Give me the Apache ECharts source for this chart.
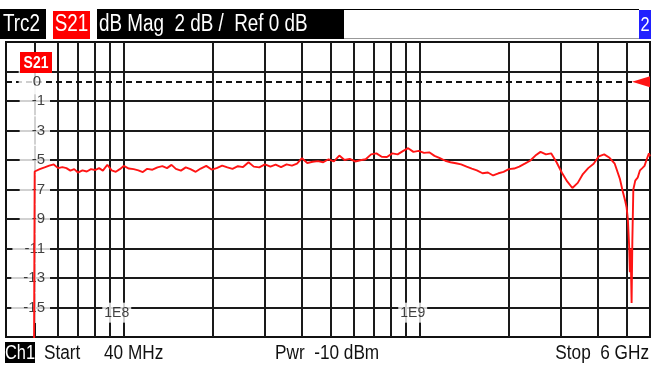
<!DOCTYPE html>
<html><head><meta charset="utf-8">
<script src="https://cdn.jsdelivr.net/npm/echarts@6/dist/echarts.min.js"></script>
<style>html,body{margin:0;padding:0;background:#fff}#c{width:651px;height:365px}</style>
</head><body><div id="c"></div>
<script>
// ---- data ----
const freqMHz = [
  49.5, 50, 52, 54, 56, 58, 60, 62, 64, 66,
  68, 70, 72.5, 75, 77.5, 80, 82.5, 85, 88, 91,
  94, 97, 100, 104, 108, 112, 116, 120, 125, 130,
  135, 140, 145, 150, 156, 162, 168, 175, 182, 190,
  198, 206, 215, 224, 233, 243, 253, 264, 275, 287,
  300, 313, 326, 340, 355, 370, 385, 400, 417, 435,
  453, 472, 492, 513, 535, 557, 580, 605, 630, 657,
  685, 714, 744, 775, 808, 842, 877, 914, 952, 992,
  1034, 1077, 1122, 1170, 1220, 1270, 1325, 1380, 1440, 1500,
  1560, 1630, 1700, 1770, 1845, 1920, 2000, 2085, 2170, 2265,
  2360, 2460, 2560, 2670, 2780, 2900, 3020, 3150, 3280, 3420,
  3560, 3710, 3870, 4030, 4200, 4380, 4560, 4750, 4850, 4950,
  5000, 5050, 5100, 5130, 5160, 5200, 5230, 5270, 5350, 5450,
  5550, 5650, 5750, 5850, 5950, 6000
];
const s21dB = [
  -30, -5.78, -5.62, -5.50, -5.38, -5.30, -5.55, -5.48, -5.55, -5.72,
  -5.62, -5.85, -5.70, -5.78, -5.62, -5.68, -5.55, -5.72, -5.32, -5.70,
  -5.80, -5.62, -5.40, -5.58, -5.62, -5.70, -5.82, -5.60, -5.66, -5.50,
  -5.42, -5.55, -5.33, -5.60, -5.72, -5.50, -5.62, -5.80, -5.58, -5.40,
  -5.65, -5.55, -5.38, -5.50, -5.60, -5.42, -5.48, -5.15, -5.45, -5.50,
  -5.30, -5.45, -5.32, -5.48, -5.30, -5.38, -5.25, -4.88, -5.20, -5.12,
  -5.08, -5.15, -4.95, -5.10, -4.70, -5.00, -4.92, -5.10, -5.02, -4.95,
  -4.62, -4.55, -4.78, -4.80, -4.55, -4.62, -4.40, -4.20, -4.45, -4.38,
  -4.52, -4.48, -4.72, -4.88, -5.05, -5.15, -5.22, -5.30, -5.45, -5.58,
  -5.70, -5.90, -5.85, -6.05, -5.90, -5.80, -5.62, -5.58, -5.45, -5.25,
  -5.05, -4.70, -4.45, -4.62, -4.55, -5.15, -5.85, -6.45, -6.90, -6.55,
  -5.95, -5.55, -5.25, -4.75, -4.62, -4.85, -5.25, -6.30, -7.10, -7.80,
  -8.20, -9.00, -10.8, -12.6, -11.0, -14.7, -10.5, -7.0, -6.40, -6.20,
  -5.70, -5.55, -5.40, -4.95, -4.55, -4.75
];
const startMHz = 40, stopMHz = 6000;
const yMin = -17, yMax = 3;
const vGridMHz = [50, 60, 70, 80, 90, 100, 200, 300, 400, 500, 600, 700, 800, 900, 1000, 2000, 3000, 4000, 5000];
const hGridDB = [1, -1, -3, -5, -7, -9, -11, -13, -15];
const yTickLabels = [-1, -3, -5, -7, -9, -11, -13, -15];
const refLevelDB = 0.3;
const refLabel = '0';
const decadeMHz = [100, 1000];
const decadeLabels = ['1E8', '1E9'];
const headerTexts = ['Trc2', 'S21', 'dB Mag  2 dB /  Ref 0 dB', '2'];
const footerTexts = ['Ch1', 'Start', '40 MHz', 'Pwr  -10 dBm', 'Stop  6 GHz'];

// ---- chart ----
const FONT = '"Liberation Sans",Arial,sans-serif';
const RED = '#ff1414';
const NARROW = 0.82;
const chart = echarts.init(document.getElementById('c'), null, {renderer: 'canvas'});
const M = 1e6;
const gridLineData = vGridMHz.map(f => ({xAxis: f * M}))
  .concat(hGridDB.map(v => ({yAxis: v})))
  .concat([{yAxis: refLevelDB, lineStyle: {type: [6, 4], color: '#111', width: 2}}]);

function txt(text, x, y, opts) {
  opts = opts || {};
  return {type: 'text', z: 12, x: x, y: y, scaleX: opts.scaleX || NARROW,
    style: {text: text, x: 0, y: 0, fill: opts.fill || '#111',
      font: (opts.bold ? 'bold ' : '') + (opts.size || 20) + 'px ' + FONT,
      align: opts.align || 'left', verticalAlign: 'middle'}};
}

const yLabelData = [{value: [startMHz * M, refLevelDB], name: refLabel,
    label: {offset: [38, 0], padding: [5, 3, 5, 14]}}]
  .concat(yTickLabels.map(v => ({value: [startMHz * M, v], name: String(v)})));

const option = {
  backgroundColor: '#fff',
  animation: false,
  grid: {left: 6, right: 1, top: 42, bottom: 28, show: true, borderColor: '#111', borderWidth: 2, backgroundColor: 'transparent'},
  xAxis: {type: 'log', logBase: 10, min: startMHz * M, max: stopMHz * M,
    axisLine: {show: false}, axisTick: {show: false}, axisLabel: {show: false}, splitLine: {show: false}},
  yAxis: {type: 'value', min: yMin, max: yMax,
    axisLine: {show: false}, axisTick: {show: false}, splitLine: {show: false}, axisLabel: {show: false}},
  series: [
    {type: 'line', z: 0, data: [], silent: true,
      markLine: {z: 0, silent: true, symbol: ['none', 'none'], label: {show: false}, animation: false,
        lineStyle: {color: '#1a1a1a', width: 2, type: 'solid'}, emphasis: {disabled: true},
        data: gridLineData}},
    {type: 'scatter', z: 1, silent: true, symbolSize: 1, itemStyle: {color: 'rgba(0,0,0,0)'},
      data: yLabelData,
      label: {show: true, position: 'inside', formatter: '{b}', offset: [44, 0], align: 'right', verticalAlign: 'middle',
        color: '#111', fontFamily: FONT, fontSize: 15, backgroundColor: '#fff', padding: [8, 5, 8, 12]}},
    {type: 'scatter', z: 1, silent: true, symbolSize: 1, itemStyle: {color: 'rgba(0,0,0,0)'},
      data: decadeMHz.map((f, i) => ({value: [f * M, -15.35], name: decadeLabels[i]})),
      label: {show: true, position: 'inside', formatter: '{b}', offset: [-7, 0], color: '#111',
        fontFamily: FONT, fontSize: 14, backgroundColor: '#fff', padding: [3, 2, 3, 2]}},
    {type: 'line', z: 3, silent: true, showSymbol: false, symbol: 'none', clip: true,
      data: freqMHz.map((f, i) => [f * M, s21dB[i]]),
      lineStyle: {color: RED, width: 1.9},
      markPoint: {silent: true, symbol: 'triangle', symbolSize: [11, 18], symbolRotate: 90, symbolOffset: [-9, 0],
        itemStyle: {color: RED}, label: {show: false},
        data: [{coord: [stopMHz * M, refLevelDB]}]}}
  ],
  graphic: [
    {type: 'rect', z: 10, shape: {x: 0, y: 9, width: 344, height: 30}, style: {fill: '#000'}},
    {type: 'rect', z: 10, shape: {x: 344, y: 9, width: 295, height: 1}, style: {fill: '#000'}},
    {type: 'rect', z: 10, shape: {x: 344, y: 38, width: 295, height: 1}, style: {fill: '#999'}},
    {type: 'rect', z: 10, shape: {x: 46, y: 9, width: 51, height: 30}, style: {fill: '#fff'}},
    {type: 'rect', z: 11, shape: {x: 53, y: 11, width: 37, height: 28}, style: {fill: '#ff0000'}},
    {type: 'rect', z: 10, shape: {x: 639, y: 10, width: 12, height: 29}, style: {fill: '#2020ff'}},
    txt(headerTexts[0], 3, 25, {fill: '#fff', size: 23}),
    txt(headerTexts[1], 71.5, 25, {fill: '#fff', size: 23, align: 'center'}),
    txt(headerTexts[2], 99, 25, {fill: '#fff', size: 23}),
    txt(headerTexts[3], 645, 25, {fill: '#fff', size: 20, align: 'center'}),
    {type: 'rect', z: 10, shape: {x: 20, y: 52, width: 32, height: 21}, style: {fill: '#ff0000'}},
    txt('S21', 36, 63, {fill: '#fff', size: 17, bold: true, align: 'center'}),
    {type: 'rect', z: 10, shape: {x: 5, y: 342, width: 30, height: 21}, style: {fill: '#000'}},
    txt(footerTexts[0], 20, 353, {fill: '#fff', size: 20, align: 'center'}),
    txt(footerTexts[1], 44, 353, {size: 20, scaleX: 0.86}),
    txt(footerTexts[2], 104, 353, {size: 20, scaleX: 0.86}),
    txt(footerTexts[3], 275, 353, {size: 20, scaleX: 0.86}),
    txt(footerTexts[4], 649, 353, {size: 20, scaleX: 0.86, align: 'right'})
  ]
};
chart.setOption(option);
</script>
</body></html>
